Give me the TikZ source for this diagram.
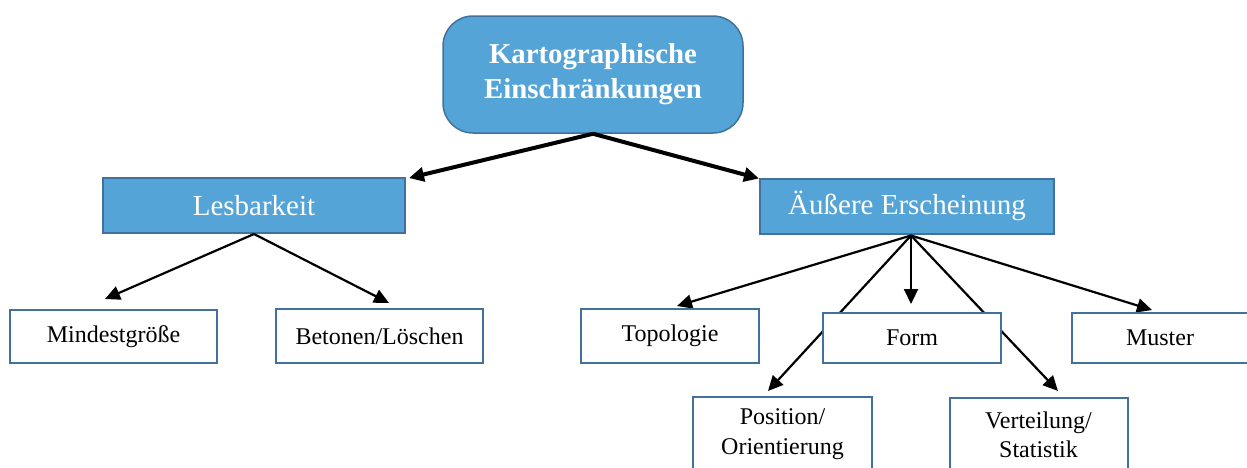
\documentclass[tikz,border=0pt]{standalone}
\usepackage{fontspec}
\setmainfont{Liberation Serif}
\usetikzlibrary{arrows.meta,calc}
\definecolor{boxblue}{RGB}{84,164,216}
\definecolor{edgeblue}{RGB}{65,113,156}
\tikzset{
  topbox/.style={rectangle, rounded corners=30pt, fill=boxblue, draw=edgeblue, line width=1.5pt,
    minimum width=300pt, minimum height=117pt, inner sep=0pt, text=white, align=center,
    font=\fontsize{28.8}{35}\selectfont\bfseries},
  bluebox/.style={rectangle, fill=boxblue, draw=edgeblue, line width=2pt,
    minimum height=55pt, inner sep=0pt, text=white, font=\fontsize{29}{33}\selectfont},
  whitebox/.style={rectangle, fill=white, draw=edgeblue, line width=2pt,
    inner sep=0pt, text=black, align=center, font=\fontsize{24}{29.5}\selectfont},
  thickarrow/.style={line width=4pt, -{Triangle[length=15pt,width=14pt]}},
  thinarrow/.style={line width=2.2pt, -{Triangle[length=15pt,width=14pt]}}
}
\begin{document}
\begin{tikzpicture}[x=1pt,y=-1pt]
\useasboundingbox (0,0) rectangle (1247,467);
% top level
\node[topbox] (top) at (593,74.5) {Kartographische\\Einschränkungen};
% second level
\node[bluebox, minimum width=302pt] (les) at (254,205.5) {Lesbarkeit};
\node[bluebox, minimum width=294pt] (aus) at (907,206) {Äußere Erscheinung};
% arrow tips (free ends)
\coordinate (tMin) at (105,299);
\coordinate (tBet) at (389,303);
\coordinate (tTop) at (677,306);
\coordinate (tForm) at (911,304);
\coordinate (tPos) at (768,391);
\coordinate (tVer) at (1058,391);
\coordinate (tMus) at (1152,310);
\coordinate (aApex) at ($(aus.south)+(4,1)$);
% connectors behind boxes
\draw[thickarrow] (top.south) -- ($(les.north east)+(3,1)$);
\draw[thickarrow] (top.south) -- ($(aus.north west)+(0,1)$);
\draw[thinarrow] (les.south) -- (tMin);
\draw[thinarrow] (les.south) -- (tBet);
\draw[thinarrow] (aApex) -- (tTop);
\draw[thinarrow] (aApex) -- (tForm);
\draw[thinarrow] (aApex) -- (tPos);
\draw[thinarrow] (aApex) -- (tVer);
\draw[thinarrow] (aApex) -- (tMus);
% third level
\node[whitebox, minimum width=207pt, minimum height=53pt] (min) at (113.5,336.5) {Mindestgröße};
\node[whitebox, minimum width=207pt, minimum height=54pt] (bet) at (379.5,336) {Betonen/Löschen};
\node[whitebox, minimum width=178pt, minimum height=54pt] (topo) at (670,336) {Topologie};
\node[whitebox, minimum width=178pt, minimum height=50pt] (form) at (912,338) {Form};
\node[whitebox, minimum width=176pt, minimum height=50pt] (mus) at (1160,338) {Muster};
\node[whitebox, minimum width=179pt, minimum height=74pt] (pos) at (782.5,434) {Position/\\Orientierung};
\node[whitebox, minimum width=178pt, minimum height=74pt] (ver) at (1038.5,435) {Verteilung/\\Statistik};
\end{tikzpicture}
\end{document}
